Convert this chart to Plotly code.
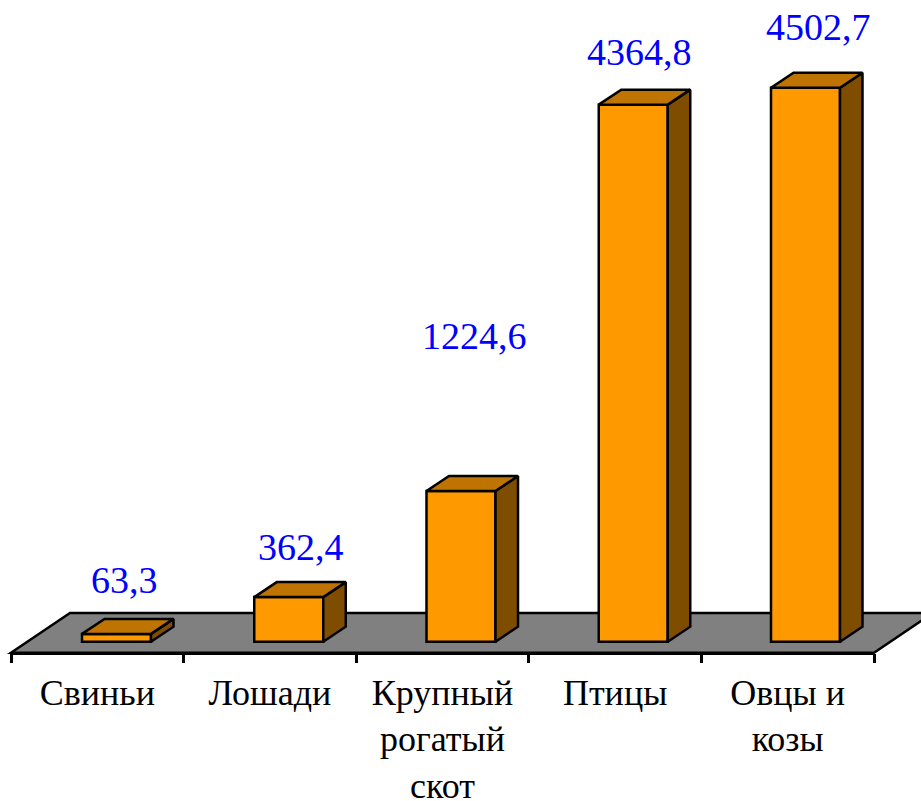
"""Faux-3D bar chart of livestock numbers, drawn with plain Plotly traces."""

import plotly.graph_objects as go

categories = ["Свиньи", "Лошади", "Крупный<br>рогатый<br>скот", "Птицы", "Овцы и<br>козы"]
values = [63.3, 362.4, 1224.6, 4364.8, 4502.7]
value_labels = ["63,3", "362,4", "1224,6", "4364,8", "4502,7"]

# label offsets from the top of each bar, in pixels
label_dx = [8, 12, 13, 6, 13]
label_dy = [54, 50, 155, 53, 61]

FRONT = "#FF9900"
TOP = "#BF7300"
SIDE = "#7F4D00"
FLOOR = "#808080"
FONT = "Liberation Serif"

W, H = 921, 801
PX_PER_CAT = 172.25
PX_PER_VAL = 0.12304
X0_PX, Y0_PX = 116.5, 641.7

BAR_W = 69 / PX_PER_CAT
DX = 22.5 / PX_PER_CAT
DY = 15 / PX_PER_VAL

xs = list(range(len(values)))

side_x, side_y, top_x, top_y = [], [], [], []
for x, v in zip(xs, values):
    r = x + BAR_W / 2
    l = x - BAR_W / 2
    side_x += [r, r + DX, r + DX, r, r, None]
    side_y += [0, DY, v + DY, v, 0, None]
    top_x += [l, l + DX, r + DX, r, l, None]
    top_y += [v, v + DY, v + DY, v, v, None]

fig = go.Figure()
fig.add_trace(
    go.Bar(
        x=xs,
        y=values,
        width=BAR_W,
        marker=dict(color=FRONT, line=dict(color="black", width=2.5)),
        hoverinfo="skip",
    )
)
for fx, fy, color in [(side_x, side_y, SIDE), (top_x, top_y, TOP)]:
    fig.add_trace(
        go.Scatter(
            x=fx,
            y=fy,
            mode="lines",
            fill="toself",
            fillcolor=color,
            line=dict(color="black", width=2.5),
            hoverinfo="skip",
        )
    )
# carries the category axis below the floor
fig.add_trace(
    go.Scatter(
        x=categories,
        y=[0] * len(categories),
        xaxis="x2",
        yaxis="y",
        mode="markers",
        marker=dict(opacity=0),
        hoverinfo="skip",
    )
)

for x, v, text, dx, dy in zip(xs, values, value_labels, label_dx, label_dy):
    fig.add_annotation(
        x=x,
        y=v,
        xshift=dx,
        yshift=dy,
        text=text,
        showarrow=False,
        font=dict(family=FONT, size=38, color="#0000FF"),
    )

# floor parallelogram, in pixels converted to data units
floor_px = [(11, 652.7), (70, 613), (933, 613), (874, 652.7)]
floor_pts = [((px - X0_PX) / PX_PER_CAT, (Y0_PX - py) / PX_PER_VAL) for px, py in floor_px]
floor_path = "M " + " L ".join(f"{a:.4f},{b:.1f}" for a, b in floor_pts) + " Z"

fig.update_layout(
    width=W,
    height=H,
    margin=dict(l=0, r=0, t=0, b=0),
    paper_bgcolor="white",
    plot_bgcolor="rgba(0,0,0,0)",
    showlegend=False,
    shapes=[
        dict(
            type="path",
            path=floor_path,
            xref="x",
            yref="y",
            layer="below",
            fillcolor=FLOOR,
            line=dict(color="black", width=2.5),
        )
    ],
    xaxis=dict(
        visible=False,
        automargin=False,
        range=[-X0_PX / PX_PER_CAT, (W - X0_PX) / PX_PER_CAT],
    ),
    yaxis=dict(
        visible=False,
        automargin=False,
        range=[(Y0_PX - H) / PX_PER_VAL, Y0_PX / PX_PER_VAL],
    ),
    xaxis2=dict(
        type="category",
        automargin=False,
        domain=[11 / W, 874 / W],
        anchor="free",
        position=(H - 652.7) / H,
        range=[-0.5, 4.5],
        tickson="boundaries",
        ticks="outside",
        ticklen=9,
        tickwidth=2.5,
        tickcolor="black",
        showline=True,
        linecolor="black",
        linewidth=2.5,
        showgrid=False,
        tickangle=0,
        ticklabelstandoff=7,
        tickfont=dict(family=FONT, size=36, color="black"),
    ),
)

fig.write_html(
    "out.html",
    config=dict(displayModeBar=False),
    post_script="document.body.style.margin='0';",
)
